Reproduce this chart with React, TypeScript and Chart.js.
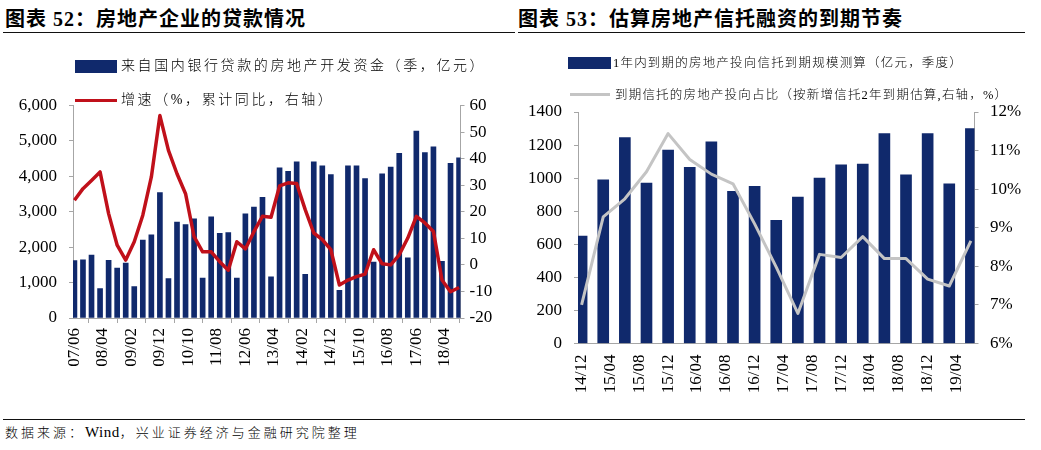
import React, { useEffect, useRef } from 'react';
import { Chart, registerables } from 'chart.js';

Chart.register(...registerables);

// ---------- 图表52 data ----------
const quarters52 = [
  '07/06', '07/09', '07/12', '08/03', '08/06', '08/09', '08/12', '09/03', '09/06', '09/09',
  '09/12', '10/03', '10/06', '10/09', '10/12', '11/03', '11/06', '11/09', '11/12', '12/03',
  '12/06', '12/09', '12/12', '13/03', '13/06', '13/09', '13/12', '14/03', '14/06', '14/09',
  '14/12', '15/03', '15/06', '15/09', '15/12', '16/03', '16/06', '16/09', '16/12', '17/03',
  '17/06', '17/09', '17/12', '18/03', '18/06', '18/09',
];
const bankLoans52 = [
  1620, 1640, 1780, 830, 1630, 1410, 1550, 890, 2200, 2350,
  3540, 1110, 2710, 2640, 2800, 1130, 2860, 2390, 2410, 1130,
  2940, 3130, 3410, 1160, 4240, 4140, 4410, 1230, 4410, 4300,
  4050, 780, 4300, 4300, 3940, 1580, 4070, 4260, 4650, 1700,
  5280, 4670, 4830, 1600, 4370, 4520,
];
const growth52 = [
  24.3, 28.7, 31.8, 35.0, 19.3, 7.4, 1.8, 8.7, 18.7, 33.1,
  56.2, 43.1, 34.3, 26.8, 10.6, 4.9, 4.9, 1.2, -2.0, 8.7,
  6.0, 12.5, 18.3, 17.9, 29.7, 30.9, 30.6, 20.8, 12.0, 9.5,
  5.7, -7.6, -5.7, -4.4, -3.5, 5.7, 0.4, 0.0, 3.8, 10.1,
  18.3, 15.8, 12.6, -5.7, -10.1, -8.5,
];
const xTicks52 = ['07/06', '08/04', '09/02', '09/12', '10/10', '11/08', '12/06', '13/04', '14/02', '14/12', '15/10', '16/08', '17/06', '18/04'];
const seriesNames52 = ['来自国内银行贷款的房地产开发资金（季，亿元）', '增速（%，累计同比，右轴）'];

// ---------- 图表53 data ----------
const quarters53 = [
  '14/12', '15/03', '15/06', '15/09', '15/12', '16/03', '16/06', '16/09', '16/12', '17/03',
  '17/06', '17/09', '17/12', '18/03', '18/06', '18/09', '18/12', '19/03', '19/06',
];
const trustDue53 = [650, 990, 1245, 970, 1170, 1065, 1220, 920, 950, 745, 885, 1000, 1080, 1085, 1270, 1020, 1270, 965, 1300];
const trustShare53 = [7.0, 9.28, 9.75, 10.45, 11.44, 10.77, 10.39, 10.14, 9.1, 7.98, 6.78, 8.31, 8.23, 8.77, 8.2, 8.2, 7.67, 7.49, 8.66];
const xTicks53 = ['14/12', '15/04', '15/08', '15/12', '16/04', '16/08', '16/12', '17/04', '17/08', '17/12', '18/04', '18/08', '18/12', '19/04'];
const seriesNames53 = ['1年内到期的房地产投向信托到期规模测算（亿元，季度）', '到期信托的房地产投向占比（按新增信托2年到期估算,右轴，%）'];

const NAVY = '#10296c';
const RED = '#c0101a';
const GRAY = '#c4c4c4';
const AXIS = '#a6a6a6';
const NUM_FONT = "'Liberation Serif', 'Times New Roman', serif";
const CJK_FONT = "'Liberation Serif', 'Noto Sans CJK SC', sans-serif";

const monthsFrom = (base: string) => (label: string) => {
  const [y, m] = label.split('/').map(Number);
  const [by, bm] = base.split('/').map(Number);
  return (y - by) * 12 + (m - bm);
};
const mi52 = monthsFrom(quarters52[0]);
const mi53 = monthsFrom(quarters53[0]);

function makeConfig(opts: any) {
  const tickFont = { family: NUM_FONT, size: 17 };
  return {
    type: 'bar',
    data: {
      datasets: [
        {
          type: 'line',
          label: opts.names[1],
          data: opts.quarters.map((q: string, i: number) => ({ x: opts.mi(q), y: opts.line[i] })),
          yAxisID: 'y1',
          borderColor: opts.lineColor,
          borderWidth: opts.lineWidth,
          pointRadius: 0,
          tension: 0,
          borderJoinStyle: 'round',
          order: 0,
        },
        {
          type: 'bar',
          label: opts.names[0],
          data: opts.quarters.map((q: string, i: number) => ({ x: opts.mi(q), y: opts.bars[i] })),
          yAxisID: 'y',
          backgroundColor: NAVY,
          borderWidth: 0,
          barThickness: opts.barThickness,
          order: 1,
        },
      ],
    },
    options: {
      responsive: false,
      animation: false,
      events: [],
      layout: { padding: { top: opts.area.top, left: 0, right: 0, bottom: 0 } },
      plugins: { legend: { display: false }, tooltip: { enabled: false }, title: { display: false } },
      scales: {
        x: {
          type: 'linear',
          min: -0.5,
          max: opts.maxX,
          offset: false,
          afterBuildTicks: (s: any) => {
            s.ticks = opts.xTicks.map((l: string) => ({ value: opts.mi(l) }));
          },
          afterFit: (s: any) => {
            s.height = opts.h - opts.area.bottom;
          },
          ticks: {
            autoSkip: false,
            minRotation: 90,
            maxRotation: 90,
            padding: opts.xPad,
            color: '#000',
            font: tickFont,
            callback: (_v: any, i: number) => opts.xTicks[i],
          },
          grid: { drawOnChartArea: false, drawTicks: opts.xTickLen > 0, tickLength: opts.xTickLen, color: AXIS },
          border: { display: true, color: AXIS, width: 1 },
        },
        y: {
          position: 'left',
          min: opts.yMin,
          max: opts.yMax,
          afterFit: (s: any) => {
            s.width = opts.area.left;
          },
          ticks: {
            stepSize: opts.yStep,
            padding: opts.yPad,
            color: '#000',
            font: tickFont,
            callback: opts.yFmt,
          },
          grid: { drawOnChartArea: false, tickLength: 4, color: AXIS },
          border: { display: true, color: AXIS, width: 1 },
        },
        y1: {
          position: 'right',
          min: opts.y1Min,
          max: opts.y1Max,
          afterFit: (s: any) => {
            s.width = opts.w - opts.area.right;
          },
          ticks: {
            stepSize: opts.y1Step,
            padding: opts.y1Pad,
            color: '#000',
            font: tickFont,
            callback: opts.y1Fmt,
          },
          grid: { drawOnChartArea: false, tickLength: 4, color: AXIS },
          border: { display: true, color: AXIS, width: 1 },
        },
      },
    },
  };
}

const W1 = 520;
const W2 = 521;
const H = 400;

const legendText = (size: number, spacing: number): React.CSSProperties => ({
  position: 'absolute',
  fontFamily: CJK_FONT,
  fontSize: size,
  letterSpacing: spacing,
  lineHeight: '20px',
  height: 20,
  whiteSpace: 'nowrap',
  color: '#000',
  fontWeight: 300,
});

export default function App() {
  const ref1 = useRef<HTMLCanvasElement>(null);
  const ref2 = useRef<HTMLCanvasElement>(null);

  useEffect(() => {
    const c1 = new Chart(
      ref1.current as HTMLCanvasElement,
      makeConfig({
        names: seriesNames52,
        quarters: quarters52,
        bars: bankLoans52,
        line: growth52,
        mi: mi52,
        xTicks: xTicks52,
        maxX: mi52(quarters52[quarters52.length - 1]) + 0.5,
        lineColor: RED,
        lineWidth: 3.5,
        barThickness: 5,
        w: W1,
        h: H,
        area: { left: 73, right: 460.5, top: 105.5, bottom: 318 },
        xPad: 5,
        xTickLen: 5,
        yMin: 0,
        yMax: 6000,
        yStep: 1000,
        yPad: 12,
        yFmt: (v: number) => v.toLocaleString('en-US'),
        y1Min: -20,
        y1Max: 60,
        y1Step: 10,
        y1Pad: 5,
        y1Fmt: (v: number) => String(v),
      }) as any
    );
    const c2 = new Chart(
      ref2.current as HTMLCanvasElement,
      makeConfig({
        names: seriesNames53,
        quarters: quarters53,
        bars: trustDue53,
        line: trustShare53,
        mi: mi53,
        xTicks: xTicks53,
        maxX: mi53(quarters53[quarters53.length - 1]) + 0.5,
        lineColor: GRAY,
        lineWidth: 3,
        barThickness: 11,
        w: W2,
        h: H,
        area: { left: 58, right: 454.5, top: 112, bottom: 343.5 },
        xPad: 11,
        xTickLen: 0,
        yMin: 0,
        yMax: 1400,
        yStep: 200,
        yPad: 12,
        yFmt: (v: number) => String(v),
        y1Min: 6,
        y1Max: 12,
        y1Step: 1,
        y1Pad: 11.5,
        y1Fmt: (v: number) => `${v}%`,
      }) as any
    );
    return () => {
      c1.destroy();
      c2.destroy();
    };
  }, []);

  const titleStyle: React.CSSProperties = {
    position: 'absolute',
    top: 7,
    fontFamily: CJK_FONT,
    fontWeight: 'bold',
    fontSize: 20,
    letterSpacing: 1,
    lineHeight: '24px',
    whiteSpace: 'nowrap',
    color: '#000',
  };

  return (
    <div style={{ position: 'absolute', left: 0, top: 0, width: 1041, height: 450, background: '#fff', overflow: 'hidden' }}>
      <div style={{ ...titleStyle, left: 5 }}>图表 52：房地产企业的贷款情况</div>
      <div style={{ ...titleStyle, left: 518 }}>图表 53：估算房地产信托融资的到期节奏</div>
      <div style={{ position: 'absolute', left: 3, top: 31.5, width: 512, height: 1.5, background: '#111' }} />
      <div style={{ position: 'absolute', left: 518, top: 31.5, width: 507, height: 1.5, background: '#111' }} />

      <canvas ref={ref1} width={W1} height={H} style={{ position: 'absolute', left: 0, top: 0, width: W1, height: H }} />
      <canvas ref={ref2} width={W2} height={H} style={{ position: 'absolute', left: 520, top: 0, width: W2, height: H }} />

      {/* legend 52 */}
      <div style={{ position: 'absolute', left: 75, top: 60, width: 42, height: 12.5, background: NAVY }} />
      <div style={{ ...legendText(14, 2.6), left: 121, top: 56 }}>{seriesNames52[0]}</div>
      <div style={{ position: 'absolute', left: 75, top: 98.5, width: 42, height: 3.5, background: RED }} />
      <div style={{ ...legendText(14, 2.6), left: 121, top: 90 }}>{seriesNames52[1]}</div>

      {/* legend 53 */}
      <div style={{ position: 'absolute', left: 568, top: 57, width: 43, height: 11.5, background: NAVY }} />
      <div style={{ ...legendText(12.5, 1.2), left: 613, top: 52.5 }}>{seriesNames53[0]}</div>
      <div style={{ position: 'absolute', left: 570, top: 93, width: 40, height: 3, background: GRAY }} />
      <div style={{ ...legendText(12.5, 1.2), left: 615, top: 84.5 }}>{seriesNames53[1]}</div>

      <div style={{ position: 'absolute', left: 3, top: 418.5, width: 1022, height: 1.5, background: '#111' }} />
      <div style={{ ...legendText(13, 3), left: 5, top: 422 }}>
        数据来源：<span style={{ letterSpacing: 0.5, fontSize: 15 }}>Wind</span>，兴业证券经济与金融研究院整理
      </div>
    </div>
  );
}
